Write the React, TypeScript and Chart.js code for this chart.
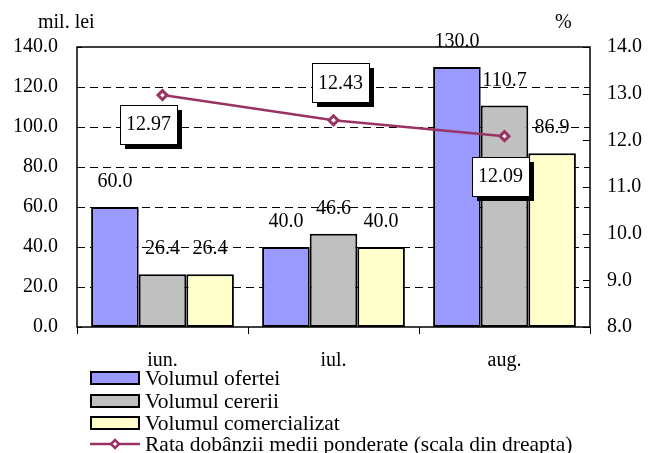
import React, { useEffect, useRef } from "react";
import { Chart, registerables } from "chart.js";

Chart.register(...registerables);

const categories = ["iun.", "iul.", "aug."];
const volumOferta = [60.0, 40.0, 130.0];
const volumCerere = [26.4, 46.6, 110.7];
const volumComercializat = [26.4, 40.0, 86.9];
const rataDobanzii = [12.97, 12.43, 12.09];
const seriesNames = [
  "Volumul ofertei",
  "Volumul cererii",
  "Volumul comercializat",
  "Rata dobânzii medii ponderate (scala din dreapta)",
];
const leftTitle = "mil. lei";
const rightTitle = "%";

const FONT = "'Liberation Serif'";
const BAR_COLORS = ["#9999FF", "#C0C0C0", "#FFFFCC"];
const LINE_COLOR = "#993366";

// placement of the boxed rate labels relative to each point (style only)
const rateLabelPlacement = [
  { dx: -14, dy: 29 },
  { dx: 7, dy: -38 },
  { dx: -4, dy: 40 },
];

const framePlugin = {
  id: "frame",
  beforeDatasetsDraw(chart: any) {
    const { ctx, chartArea: a } = chart;
    const y = chart.scales.y;
    const y1 = chart.scales.y1;
    ctx.save();
    ctx.strokeStyle = "#000";
    ctx.lineWidth = 1;
    ctx.setLineDash([8, 5]);
    y.ticks.forEach((t: any) => {
      if (t.value <= y.min || t.value >= y.max) return;
      const py = Math.round(y.getPixelForValue(t.value)) + 0.5;
      ctx.beginPath();
      ctx.moveTo(a.left, py);
      ctx.lineTo(a.right, py);
      ctx.stroke();
    });
    ctx.setLineDash([]);
    y.ticks.forEach((t: any) => {
      const py = Math.round(y.getPixelForValue(t.value)) + 0.5;
      ctx.beginPath();
      ctx.moveTo(a.left, py);
      ctx.lineTo(a.left + 5, py);
      ctx.stroke();
    });
    y1.ticks.forEach((t: any) => {
      const py = Math.round(y1.getPixelForValue(t.value)) + 0.5;
      ctx.beginPath();
      ctx.moveTo(a.right - 7, py);
      ctx.lineTo(a.right, py);
      ctx.stroke();
    });
    ctx.restore();
  },
  afterDatasetsDraw(chart: any) {
    const { ctx, chartArea: a } = chart;
    ctx.save();
    ctx.strokeStyle = "#000";
    ctx.lineWidth = 1.5;
    ctx.strokeRect(a.left, a.top, a.right - a.left, a.bottom - a.top);
    ctx.restore();
  },
};

const labelsPlugin = {
  id: "valueLabels",
  afterDraw(chart: any) {
    const { ctx } = chart;
    ctx.save();
    ctx.font = `20px ${FONT}`;
    ctx.fillStyle = "#000";
    ctx.textAlign = "center";
    ctx.textBaseline = "middle";
    chart.data.datasets.forEach((ds: any, di: number) => {
      const meta = chart.getDatasetMeta(di);
      if (ds.type === "line") {
        meta.data.forEach((pt: any, i: number) => {
          const txt = ds.data[i].toFixed(2);
          const pl = rateLabelPlacement[i];
          const w = ctx.measureText(txt).width + 12;
          const h = 39;
          const cx = pt.x + pl.dx;
          const cy = pt.y + pl.dy;
          const bx = Math.round(cx - w / 2);
          const by = Math.round(cy - h / 2);
          ctx.fillStyle = "#000";
          ctx.fillRect(bx + 5, by + 5, w, h);
          ctx.fillStyle = "#fff";
          ctx.fillRect(bx, by, w, h);
          ctx.strokeStyle = "#000";
          ctx.lineWidth = 1;
          ctx.strokeRect(bx + 0.5, by + 0.5, w, h);
          ctx.fillStyle = "#000";
          ctx.fillText(txt, cx, cy + 1);
        });
      } else {
        meta.data.forEach((bar: any, i: number) => {
          ctx.fillStyle = "#000";
          ctx.fillText(ds.data[i].toFixed(1), bar.x, bar.y - 25);
        });
      }
    });

    ctx.textAlign = "left";
    ctx.fillText(leftTitle, 38, 23);
    ctx.fillText(rightTitle, 555, 23);

    const rows = [378, 401, 423, 444];
    ctx.font = `21.5px ${FONT}`;
    ctx.textBaseline = "middle";
    ctx.textAlign = "left";
    seriesNames.forEach((name, i) => {
      const cy = rows[i];
      if (i < 3) {
        ctx.fillStyle = BAR_COLORS[i];
        ctx.fillRect(91, cy - 6, 48, 12);
        ctx.strokeStyle = "#000";
        ctx.lineWidth = 2;
        ctx.strokeRect(91, cy - 6, 48, 12);
      } else {
        ctx.strokeStyle = LINE_COLOR;
        ctx.lineWidth = 2.5;
        ctx.beginPath();
        ctx.moveTo(90, cy);
        ctx.lineTo(140, cy);
        ctx.stroke();
        ctx.fillStyle = "#fff";
        ctx.beginPath();
        ctx.moveTo(115, cy - 4);
        ctx.lineTo(119, cy);
        ctx.lineTo(115, cy + 4);
        ctx.lineTo(111, cy);
        ctx.closePath();
        ctx.fill();
        ctx.stroke();
      }
      ctx.fillStyle = "#000";
      ctx.fillText(name, 145, cy + 1);
    });
    ctx.restore();
  },
};

export default function App() {
  const ref = useRef<HTMLCanvasElement | null>(null);
  useEffect(() => {
    if (!ref.current) return;
    const barBase = {
      type: "bar" as const,
      borderColor: "#000",
      borderWidth: 2,
      borderSkipped: false,
      yAxisID: "y",
      order: 1,
      categoryPercentage: 0.835,
      barPercentage: 1.0,
    };
    const chart = new Chart(ref.current, {
      type: "bar",
      data: {
        labels: categories,
        datasets: [
          { ...barBase, label: seriesNames[0], data: volumOferta, backgroundColor: BAR_COLORS[0] },
          { ...barBase, label: seriesNames[1], data: volumCerere, backgroundColor: BAR_COLORS[1] },
          { ...barBase, label: seriesNames[2], data: volumComercializat, backgroundColor: BAR_COLORS[2] },
          {
            type: "line",
            label: seriesNames[3],
            data: rataDobanzii,
            yAxisID: "y1",
            order: 0,
            borderColor: LINE_COLOR,
            borderWidth: 2.5,
            pointStyle: "rectRot",
            pointRadius: 4.5,
            pointBorderWidth: 3,
            pointBackgroundColor: "#fff",
            pointBorderColor: LINE_COLOR,
            tension: 0,
          } as any,
        ],
      },
      options: {
        responsive: false,
        animation: false,
        devicePixelRatio: 1,
        layout: { padding: { top: 47, left: 0, right: 0, bottom: 0 } },
        plugins: {
          legend: { display: false },
          tooltip: { enabled: false },
        },
        scales: {
          x: {
            offset: true,
            grid: {
              display: true,
              drawOnChartArea: false,
              drawTicks: true,
              tickLength: 7,
              color: "#000",
              lineWidth: 1,
              offset: true,
            },
            border: { display: false },
            ticks: {
              color: "#000",
              font: { family: FONT, size: 20 },
              padding: 15,
              maxRotation: 0,
            },
            afterFit: (s: any) => {
              s.height = 126;
            },
          },
          y: {
            position: "left",
            min: 0,
            max: 140,
            ticks: {
              stepSize: 20,
              color: "#000",
              font: { family: FONT, size: 20 },
              padding: 19,
              callback: (v: any) => Number(v).toFixed(1),
            },
            grid: { display: false, drawTicks: false },
            border: { display: false },
            afterFit: (s: any) => {
              s.width = 77;
            },
          },
          y1: {
            position: "right",
            min: 8,
            max: 14,
            ticks: {
              stepSize: 1,
              color: "#000",
              font: { family: FONT, size: 20 },
              padding: 17,
              callback: (v: any) => Number(v).toFixed(1),
            },
            grid: { display: false, drawTicks: false },
            border: { display: false },
            afterFit: (s: any) => {
              s.width = 58;
            },
          },
        },
      },
      plugins: [framePlugin, labelsPlugin],
    });
    return () => chart.destroy();
  }, []);
  return (
    <div style={{ position: "absolute", left: 0, top: 0, width: 648, height: 453, background: "#fff" }}>
      <canvas ref={ref} width={648} height={453} style={{ width: 648, height: 453 }} />
    </div>
  );
}
